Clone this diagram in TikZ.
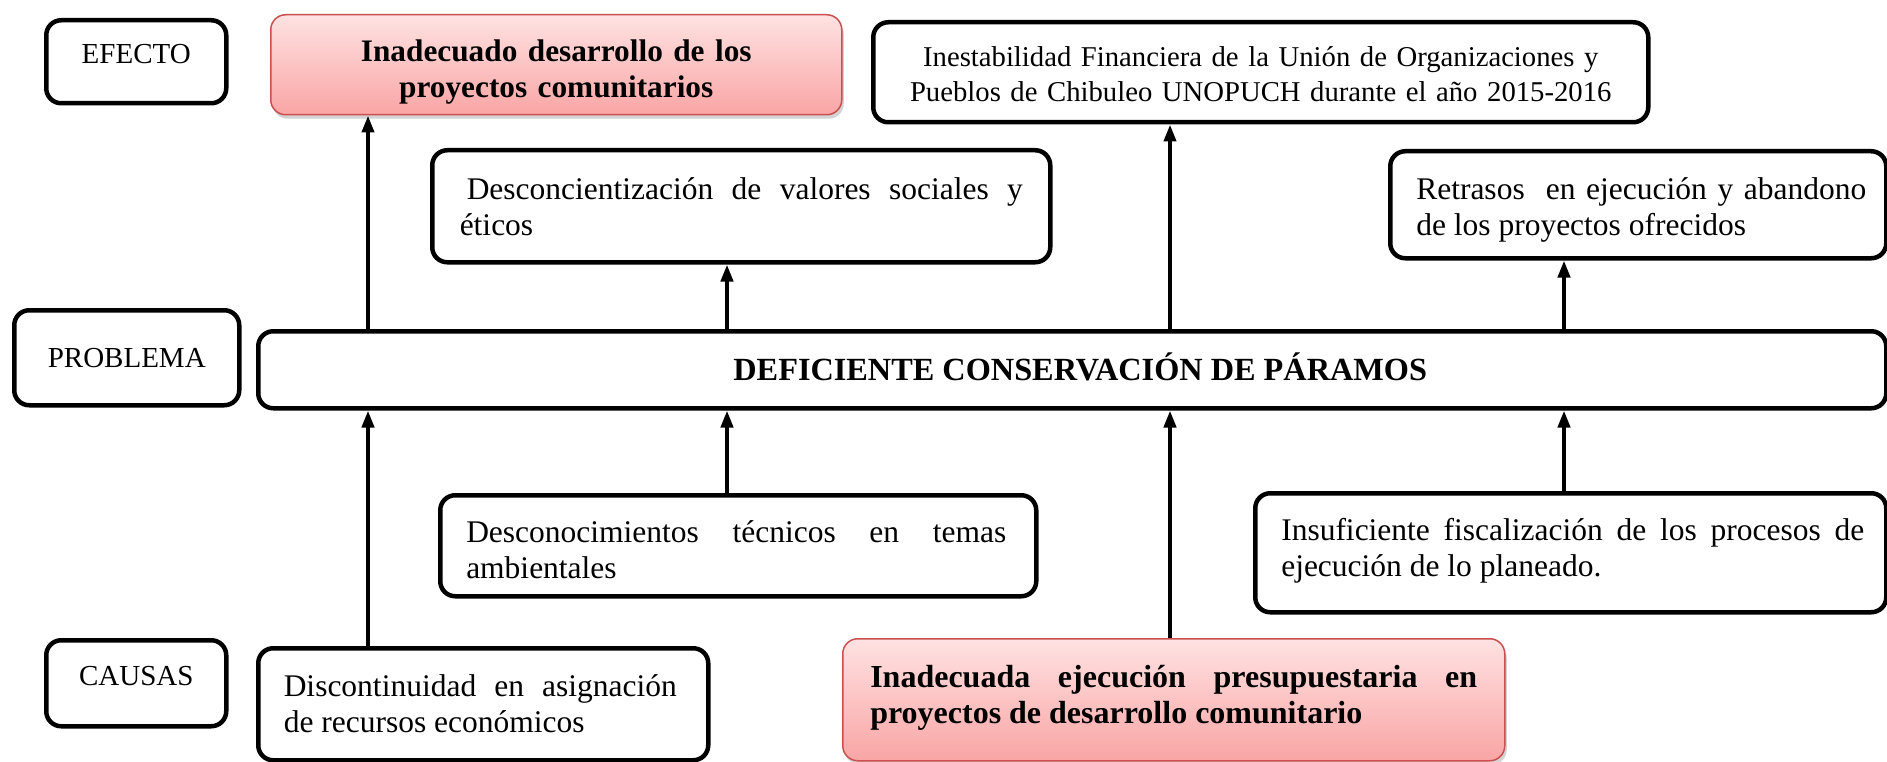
\documentclass[tikz,border=0pt]{standalone}
\usepackage{fontspec}
\setmainfont{Liberation Serif}
\usetikzlibrary{arrows.meta,shadows}
\definecolor{pinkTop}{HTML}{FFE2E2}
\definecolor{pinkBot}{HTML}{F9A5A5}
\definecolor{pinkLine}{HTML}{C9504E}
\tikzset{
  box/.style={draw=black, line width=4.5pt, rounded corners=15pt, fill=white, anchor=north west, inner sep=0pt,
    font=\fontsize{31.5}{36}\selectfont},
  labelbox/.style={box, font=\fontsize{29}{34}\selectfont},
  pinkbox/.style={draw=pinkLine, line width=1.5pt, rounded corners=15pt, top color=pinkTop, bottom color=pinkBot,
    anchor=north west, inner sep=0pt,
    drop shadow={opacity=0.35, shadow xshift=2pt, shadow yshift=-4pt}},
  txt/.style={inner sep=0pt, anchor=center, font=\fontsize{31.5}{36}\selectfont, align=justify},
  btxt/.style={inner sep=0pt, anchor=center, font=\fontsize{32}{36}\selectfont\bfseries, align=justify},
  arr/.style={line width=4pt, -{Triangle[length=17pt, width=12pt]}}
}
\begin{document}
\begin{tikzpicture}[x=1pt, y=-1pt]
\useasboundingbox (0,0) rectangle (1887,762);
\clip (0,0) rectangle (1887,762);
% labels column
\node[labelbox, minimum width=180pt, minimum height=83pt, text height=27pt, text depth=23pt] (efecto) at (44,18) {EFECTO};
\node[labelbox, minimum width=225pt, minimum height=95pt, text height=20pt, text depth=0pt] (probl) at (12,308) {PROBLEMA};
\node[labelbox, minimum width=180pt, minimum height=86pt, text height=27.5pt, text depth=22.5pt] (causas) at (44,638) {CAUSAS};
% effects
\node[pinkbox, minimum width=571pt, minimum height=100pt] (ptop) at (270,14) {};
\node[btxt, align=center, text width=560pt, font=\fontsize{31.3}{36}\selectfont\bfseries, yshift=-7pt] (ptopT) at (ptop.center)
  {Inadecuado desarrollo de los\\proyectos comunitarios};
\node[box, minimum width=775pt, minimum height=100pt] (inest) at (871,20) {};
\node[txt, align=center, text width=760pt, font=\fontsize{28.7}{35}\selectfont, yshift=-2pt] (inestT) at (inest.center)
  {Inestabilidad Financiera de la Unión de Organizaciones y\\Pueblos de Chibuleo UNOPUCH durante el año 2015-2016};
\node[box, minimum width=618pt, minimum height=112pt] (desc) at (430,148) {};
\node[txt, text width=563pt] (descT) at (desc.center)
  {\hspace*{7pt}Desconcientización de valores sociales y\linebreak éticos};
\node[box, minimum width=496pt, minimum height=107pt] (retr) at (1388,149) {};
\node[txt, text width=450pt, xshift=3pt, yshift=-5pt] (retrT) at (retr.center)
  {Retrasos\ \ en ejecución y abandono\linebreak de los proyectos ofrecidos};
% problem
\node[box, minimum width=1628pt, minimum height=77pt, font=\fontsize{32.3}{36}\selectfont\bfseries,
  text height=22pt, text depth=1pt] (def) at (256,329)
  {\hspace*{16pt}DEFICIENTE CONSERVACIÓN DE PÁRAMOS};
% causes
\node[box, minimum width=596pt, minimum height=101pt] (desco) at (438,493) {};
\node[txt, text width=540pt, xshift=-2pt, yshift=-3.5pt] (descoT) at (desco.center)
  {Desconocimientos técnicos en temas\linebreak ambientales};
\node[box, minimum width=631pt, minimum height=119pt] (insuf) at (1253,491) {};
\node[txt, text width=583pt, xshift=2pt, yshift=2pt] (insufT) at (insuf.center)
  {Insuficiente fiscalización de los procesos de\linebreak ejecución de lo planeado.};
\node[box, minimum width=450pt, minimum height=112pt] (disc) at (256,646) {};
\node[txt, text width=393pt, xshift=-3pt, yshift=1pt] (discT) at (disc.center)
  {Discontinuidad en asignación\linebreak de recursos económicos};
\node[pinkbox, minimum width=662pt, minimum height=122pt] (pbot) at (842,638) {};
\node[btxt, text width=607pt, yshift=2pt] (pbotT) at (pbot.center)
  {Inadecuada ejecución presupuestaria en\linebreak proyectos de desarrollo comunitario};
% arrow columns
\coordinate (c1) at (368,0);
\coordinate (c2) at (727,0);
\coordinate (c3) at (1170,0);
\coordinate (c4) at (1564,0);
% arrows up to effects
\draw[arr] (def.north -| c1) -- (ptop.south -| c1);
\draw[arr] (def.north -| c2) -- (desc.south -| c2);
\draw[arr] (def.north -| c3) -- (inest.south -| c3);
\draw[arr] (def.north -| c4) -- (retr.south -| c4);
% arrows from causes
\draw[arr] (disc.north -| c1) -- (def.south -| c1);
\draw[arr] (desco.north -| c2) -- (def.south -| c2);
\draw[arr] (pbot.north -| c3) -- (def.south -| c3);
\draw[arr] (insuf.north -| c4) -- (def.south -| c4);
\end{tikzpicture}
\end{document}
